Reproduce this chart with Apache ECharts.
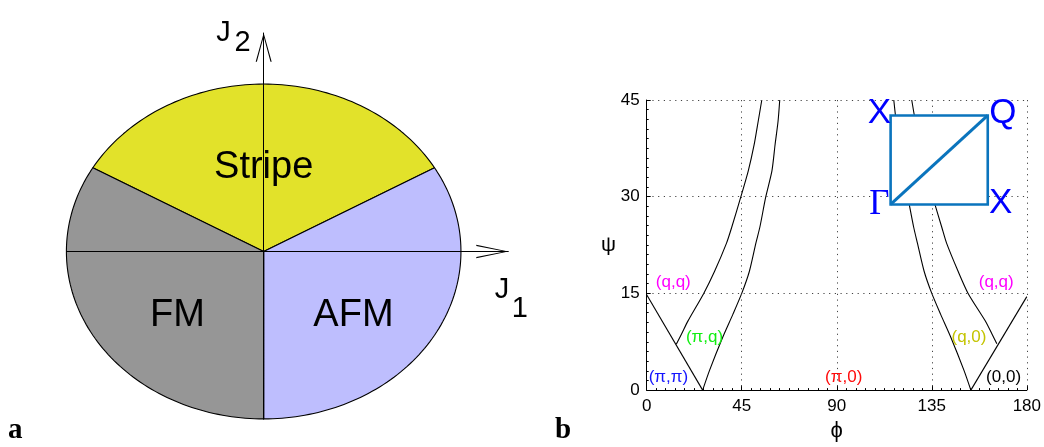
<!DOCTYPE html>
<html>
<head>
<meta charset="utf-8">
<script src="https://cdn.jsdelivr.net/npm/echarts@6/dist/echarts.min.js"></script>
<style>html,body{margin:0;padding:0;background:#fff;}#c{width:1044px;height:447px;}</style>
</head>
<body>
<div id="c"></div>
<script>
// ---------- panel a: J1-J2 phase diagram ----------
const phaseNames  = ['Stripe', 'AFM', 'FM'];
const phaseStart  = [30, -90, 150];   // degrees (J1,J2 plane)
const phaseEnd    = [150, 30, 270];
const phaseColors = ['#e2e22a', '#bebefe', '#969696'];
const phaseLabelX = [0.0, 0.455, -0.437];
const phaseLabelY = [0.5, -0.384, -0.384];

// ---------- panel b: (phi, psi) diagram ----------
const phiTicks = [0, 45, 90, 135, 180];
const psiTicks = [0, 15, 30, 45];
const vLeft   = [[0, 14.8], [26.5, 0]];
const curveA  = [[14.0, 7.1], [16.5, 8.7], [19.5, 10.7], [27.0, 15.0], [32.1, 18.4], [37.8, 22.8], [40.3, 25.3], [44.6, 30.0], [48.1, 34.0], [50.9, 38.1], [52.8, 41.7], [54.5, 45]];
const curveB  = [[26.5, 0], [29.8, 3.1], [36.0, 8.2], [40.8, 11.75], [45.0, 15.0], [48.6, 18.4], [51.7, 22.8], [53.6, 25.3], [56.4, 30.0], [59.3, 34.0], [60.8, 38.1], [62.2, 41.7], [63.0, 45]];
const vRight  = [[153.5, 0], [180, 14.5]];
const curveC  = [[165.8, 7.2], [163.5, 8.7], [160.3, 10.75], [152.2, 15.0], [147.5, 18.4], [142.0, 22.8], [139.7, 25.3], [135.4, 30.0], [131.9, 34.0], [129.1, 38.1], [127.2, 41.7], [125.5, 45]];
const curveD  = [[153.5, 0], [150.2, 3.1], [144.0, 8.2], [139.2, 11.75], [135.0, 15.0], [131.4, 18.4], [128.2, 22.8], [126.4, 25.3], [123.6, 30.0], [121.0, 34.0], [119.5, 38.1], [118.1, 41.7], [117.0, 45]];
const regionText  = ['(q,q)', '(π,q)', '(π,π)', '(π,0)', '(q,q)', '(q,0)', '(0,0)'];
const regionPhi   = [12.6, 27.4, 10.3, 93.3, 165.5, 152.6, 169.0];
const regionPsi   = [16.7, 8.2, 2.0, 2.0, 16.7, 8.2, 2.0];
const regionColor = ['#ff00ff', '#11ee11', '#1515ff', '#ff0a0a', '#ff00ff', '#c4c400', '#000000'];
const insetBox    = [115.5, 28.8, 161.5, 42.6]; // phi0, psi0, phi1, psi1
const insetText   = ['X', 'Q', 'Γ', 'X'];
const insetPhi    = [110.2, 168.6, 110.2, 167.6];
const insetPsi    = [42.9, 43.0, 28.8, 28.9];

const chart = echarts.init(document.getElementById('c'), null, {renderer: 'canvas'});
const sans = '"Liberation Sans", Arial, Helvetica, sans-serif';
const serif = '"Liberation Serif", "Times New Roman", serif';

const arrowX = 'path://M6.7,0L13.4,32L12.2,32L6.7,3.6L1.2,32L0,32Z';
const arrowY = 'path://M8,0L16,28.7L14.8,28.7L8,3.4L1.2,28.7L0,28.7Z';

const leftLabels = phaseNames.map((n, i) => ({
  value: [phaseLabelX[i], phaseLabelY[i]],
  label: {formatter: n, fontSize: 38}
}));
leftLabels.push({value: [-0.204, 1.305], label: {formatter: 'J', fontSize: 29}});
leftLabels.push({value: [-0.107, 1.245], label: {formatter: '2', fontSize: 29}});
leftLabels.push({value: [1.208, -0.230], label: {formatter: 'J', fontSize: 29}});
leftLabels.push({value: [1.298, -0.343], label: {formatter: '1', fontSize: 29}});

const lineSeries = (d) => ({
  type: 'line', xAxisIndex: 1, yAxisIndex: 1, data: d, showSymbol: false, symbol: 'none',
  smooth: 0.25, lineStyle: {color: '#000', width: 1.1}, z: 3, silent: true, animation: false
});

const option = {
  animation: false,
  grid: [
    {left: 66.4, right: 1044 - 508.3, top: 33, bottom: 447 - 418.9},
    {left: 646.7, right: 1044 - 1029.3, top: 100, bottom: 447 - 393.3}
  ],
  xAxis: [
    {gridIndex: 0, type: 'value', min: -1, max: 1.24, z: 10,
     axisLine: {show: true, onZero: true, lineStyle: {color: '#000', width: 1},
                symbol: ['none', arrowX], symbolSize: [13.4, 32], symbolOffset: [0, -16]},
     axisTick: {show: false}, axisLabel: {show: false}, splitLine: {show: false}},
    {gridIndex: 1, type: 'value', min: 0, max: 180, interval: 45, z: 4,
     name: 'ϕ', nameLocation: 'middle', nameGap: 23,
     nameTextStyle: {fontSize: 22, fontFamily: sans, color: '#000'},
     axisLine: {show: true, onZero: false, lineStyle: {color: '#000', width: 1}},
     axisTick: {show: true, inside: true, length: 4, lineStyle: {color: '#000'}},
     minorTick: {show: true, splitNumber: 10, length: 2, lineStyle: {color: '#000'}},
     axisLabel: {fontSize: 17, fontFamily: sans, color: '#000', margin: 8,
                 formatter: (v) => phiTicks.includes(v) ? String(v) : ''},
     splitLine: {show: true, lineStyle: {color: '#444', width: 1, type: [1.2, 4.5]}}}
  ],
  yAxis: [
    {gridIndex: 0, type: 'value', min: -1, max: 1.305, z: 10,
     axisLine: {show: true, onZero: true, lineStyle: {color: '#000', width: 1},
                symbol: ['none', arrowY], symbolSize: [16, 28.7], symbolOffset: [0, -14.35]},
     axisTick: {show: false}, axisLabel: {show: false}, splitLine: {show: false}},
    {gridIndex: 1, type: 'value', min: 0, max: 45, interval: 15, z: 4,
     name: 'ψ', nameLocation: 'middle', nameGap: 28, nameRotate: 0,
     nameTextStyle: {fontSize: 21, fontFamily: sans, color: '#000'},
     axisLine: {show: true, onZero: false, lineStyle: {color: '#000', width: 1}},
     axisTick: {show: true, inside: true, length: 4, lineStyle: {color: '#000'}},
     minorTick: {show: true, splitNumber: 10, length: 2, lineStyle: {color: '#000'}},
     axisLabel: {fontSize: 17, fontFamily: sans, color: '#000', margin: 7,
                 formatter: (v) => psiTicks.includes(v) ? String(v) : ''},
     splitLine: {show: true, lineStyle: {color: '#444', width: 1, type: [1.2, 4.5]}}}
  ],
  graphic: [
    {type: 'text', x: 8, y: 431, style: {text: 'a', fontSize: 29, fontWeight: 'bold', fontFamily: serif, fill: '#000', verticalAlign: 'middle'}},
    {type: 'text', x: 555, y: 431, style: {text: 'b', fontSize: 29, fontWeight: 'bold', fontFamily: serif, fill: '#000', verticalAlign: 'middle'}}
  ],
  series: [
    {
      type: 'custom', xAxisIndex: 0, yAxisIndex: 0, silent: true, z: 2,
      data: phaseNames.map((n, i) => [phaseStart[i], phaseEnd[i]]),
      encode: {x: -1, y: -1},
      renderItem: function (params, api) {
        const a0 = api.value(0), a1 = api.value(1);
        const pts = [api.coord([0, 0])];
        const n = 90;
        for (let k = 0; k <= n; k++) {
          const t = (a0 + (a1 - a0) * k / n) * Math.PI / 180;
          pts.push(api.coord([Math.cos(t), Math.sin(t)]));
        }
        return {type: 'polygon', shape: {points: pts},
                style: {fill: phaseColors[params.dataIndex], stroke: '#000', lineWidth: 1.1, lineJoin: 'round'}};
      }
    },
    {
      type: 'scatter', xAxisIndex: 0, yAxisIndex: 0, symbolSize: 0, clip: false, silent: true, z: 12,
      itemStyle: {opacity: 1},
      data: leftLabels,
      label: {show: true, position: 'inside', color: '#000', fontFamily: sans}
    },
    lineSeries(vLeft), lineSeries(curveA), lineSeries(curveB),
    lineSeries(vRight), lineSeries(curveC), lineSeries(curveD),
    {
      type: 'custom', xAxisIndex: 1, yAxisIndex: 1, silent: true, z: 6,
      data: [insetBox], encode: {x: -1, y: -1},
      renderItem: function (params, api) {
        const p0 = api.coord([api.value(0), api.value(1)]);
        const p1 = api.coord([api.value(2), api.value(3)]);
        return {type: 'group', children: [
          {type: 'rect', shape: {x: p0[0], y: p1[1], width: p1[0] - p0[0], height: p0[1] - p1[1]},
           style: {fill: '#fff', stroke: '#0a74bd', lineWidth: 2.6}},
          {type: 'line', shape: {x1: p0[0], y1: p0[1], x2: p1[0], y2: p1[1]},
           style: {stroke: '#0a74bd', lineWidth: 3}}
        ]};
      }
    },
    {
      type: 'scatter', xAxisIndex: 1, yAxisIndex: 1, symbolSize: 0, clip: false, silent: true, z: 8,
      itemStyle: {opacity: 1},
      data: regionText.map((t, i) => ({value: [regionPhi[i], regionPsi[i]],
        label: {formatter: t, color: regionColor[i]}})),
      label: {show: true, position: 'inside', fontSize: 17, fontFamily: sans}
    },
    {
      type: 'scatter', xAxisIndex: 1, yAxisIndex: 1, symbolSize: 0, clip: false, silent: true, z: 9,
      itemStyle: {opacity: 1},
      data: insetText.map((t, i) => ({value: [insetPhi[i], insetPsi[i]],
        label: {formatter: t, fontFamily: t === 'Γ' ? serif : sans}})),
      label: {show: true, position: 'inside', fontSize: 35, color: '#0000ff'}
    }
  ]
};
chart.setOption(option);
</script>
</body>
</html>
